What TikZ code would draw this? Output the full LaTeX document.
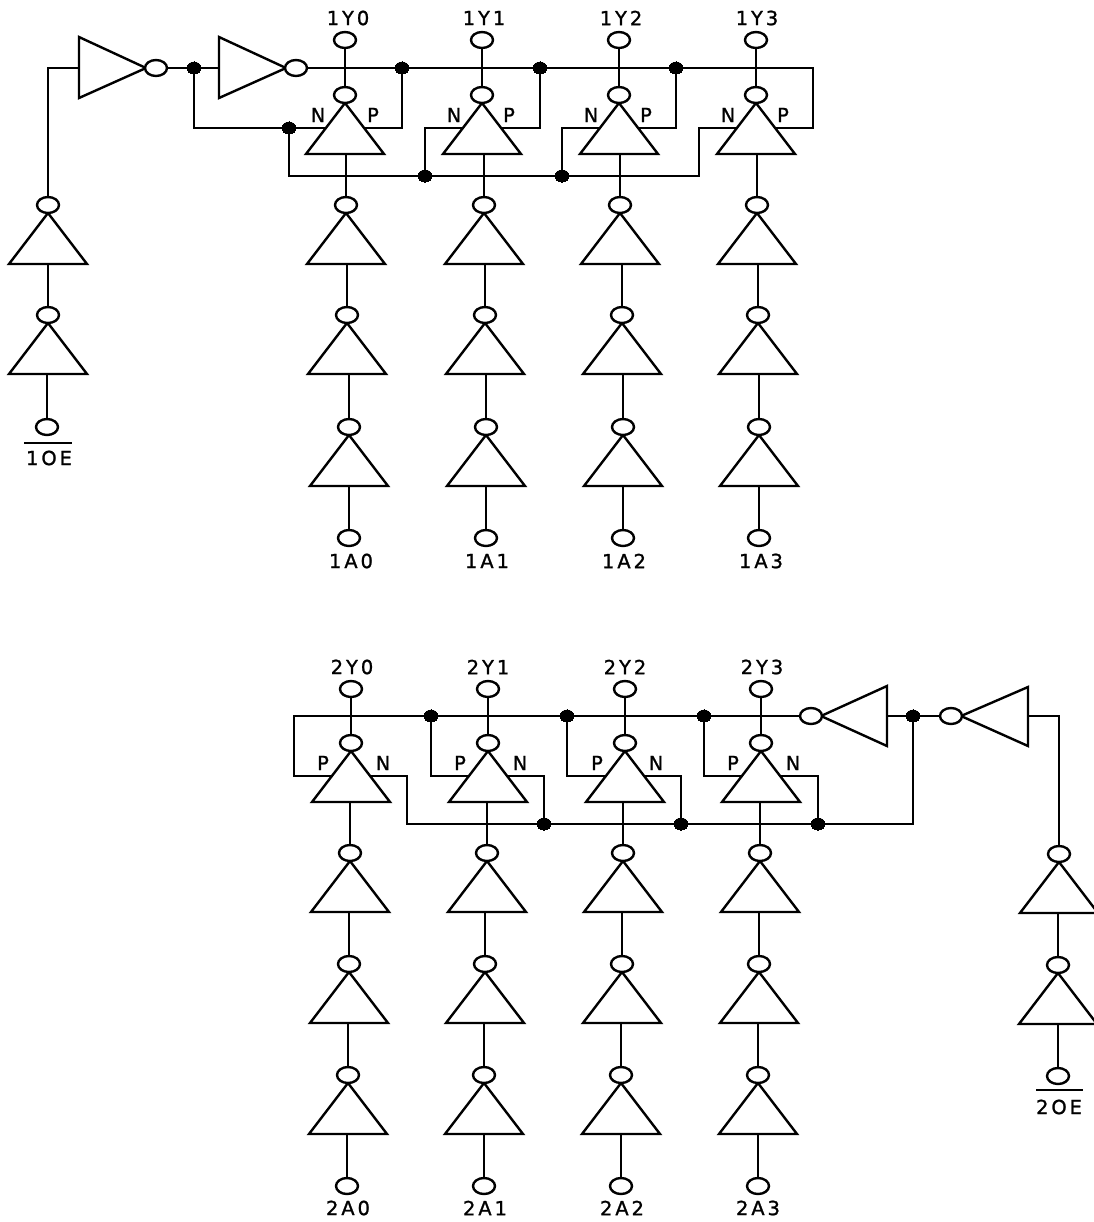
\documentclass[tikz,border=0pt]{standalone}
\usepackage{fontspec}
\usetikzlibrary{shapes.geometric}
\newfontfamily\pinfont[LetterSpace=15,FakeBold=1.2]{DejaVu Sans}
\tikzset{
	wire/.style={line width=1.8pt, line join=miter},
	bubble/.style={draw, ellipse, line width=1.8pt, fill=white, inner sep=0pt, minimum width=16.5pt, minimum height=12pt},
	dot/.style={draw, ellipse, fill=black, line width=0pt, inner sep=0pt, minimum width=10.5pt, minimum height=9.2pt},
	pinlabel/.style={inner sep=0pt, font=\pinfont\fontsize{14.6pt}{15pt}\selectfont}
}
% gate pointing up, (x,y) is the centre of its bubble
\def\gateup(#1,#2)#3{
	\draw[wire] (#1, #2+8) -- (#1-39, #2+59) -- (#1+39, #2+59) -- cycle;
	\coordinate (#3in) at (#1, #2+59);
	\coordinate (#3l) at (#1-19, #2+33);
	\coordinate (#3r) at (#1+19, #2+33);
	\node[bubble] (#3) at (#1, #2) {};
}

\begin{document}
\begin{tikzpicture}[x=0.75pt, y=-0.75pt]
		\useasboundingbox (0, 0) rectangle (1094, 1222);
		%%%%% UPPER HALF %%%%%
		\node[bubble] (y0) at (345, 40) {};
		\node[bubble] (y1) at (482, 40) {};
		\node[bubble] (y2) at (619, 40) {};
		\node[bubble] (y3) at (756, 40) {};
		\node[pinlabel] (y0t) at (348, 18) {1Y0};
		\node[pinlabel] (y1t) at (484, 18) {1Y1};
		\node[pinlabel] (y2t) at (621, 18) {1Y2};
		\node[pinlabel] (y3t) at (757, 18) {1Y3};
		
		\gateup(345, 95){ta}
		\gateup(482, 95){tb}
		\gateup(619, 95){tc}
		\gateup(756, 95){td}
		
		\gateup(346, 205){aa}
		\gateup(347, 315){ab}
		\gateup(349, 427){ac}
		\gateup(484, 205){ba}
		\gateup(485, 315){bb}
		\gateup(486, 427){bc}
		\gateup(620, 205){ca}
		\gateup(622, 315){cb}
		\gateup(623, 427){cc}
		\gateup(757, 205){da}
		\gateup(758, 315){db}
		\gateup(759, 427){dc}
		
		\node[bubble] (a0) at (349, 538) {};
		\node[bubble] (a1) at (486, 538) {};
		\node[bubble] (a2) at (623, 538) {};
		\node[bubble] (a3) at (759, 538) {};
		\node[pinlabel] (a0t) at (351, 561) {1A0};
		\node[pinlabel] (a1t) at (487, 561) {1A1};
		\node[pinlabel] (a2t) at (624, 561) {1A2};
		\node[pinlabel] (a3t) at (761, 561) {1A3};
		
		\draw[wire] (y0) -- (ta); \draw[wire] (y1) -- (tb); \draw[wire] (y2) -- (tc); \draw[wire] (y3) -- (td);
		\draw[wire] (aa) -- (aa |- tain); \draw[wire] (ab) -- (ab |- aain); \draw[wire] (ac) -- (ac |- abin); \draw[wire] (a0) -- (a0 |- acin);
		\draw[wire] (ba) -- (ba |- tbin); \draw[wire] (bb) -- (bb |- bain); \draw[wire] (bc) -- (bc |- bbin); \draw[wire] (a1) -- (a1 |- bcin);
		\draw[wire] (ca) -- (ca |- tcin); \draw[wire] (cb) -- (cb |- cain); \draw[wire] (cc) -- (cc |- cbin); \draw[wire] (a2) -- (a2 |- ccin);
		\draw[wire] (da) -- (da |- tdin); \draw[wire] (db) -- (db |- dain); \draw[wire] (dc) -- (dc |- dbin); \draw[wire] (a3) -- (a3 |- dcin);
		
		% enable path of the upper half
		\gateup(48, 205){ea}
		\gateup(48, 315){eb}
		\node[bubble] (oea) at (47, 427) {};
		\node[pinlabel] (oeat) at (49, 458) {1OE};
		\draw[wire, line width=1.4pt] (24, 443) -- (72, 443);
		\draw[wire] (eb) -- (eb |- eain); \draw[wire] (oea) -- (oea |- ebin);
		
		\draw[wire] (79, 37) -- (79, 98) -- (146, 68) -- cycle;
		\coordinate (inva) at (79, 68);
		\node[bubble] (invab) at (156, 68) {};
		\draw[wire] (219, 37) -- (219, 98) -- (286, 68) -- cycle;
		\coordinate (invb) at (219, 68);
		\node[bubble] (invbb) at (296, 68) {};
		\draw[wire] (ea) |- (inva);
		
		\node[dot] (ja) at (194, 68) {};
		\draw[wire] (invab) -- (ja); \draw[wire] (ja) -- (invb);
		\node[dot] (jb) at (289, 128) {};
		\draw[wire] (ja) |- (jb); \draw[wire] (jb) -- (tal);
		
		\node[dot] (pa) at (402, 68) {};
		\node[dot] (pb) at (540, 68) {};
		\node[dot] (pc) at (676, 68) {};
		\coordinate (pd) at (813, 68);
		\draw[wire] (invbb) -- (pa); \draw[wire] (pa) -- (pb); \draw[wire] (pb) -- (pc); \draw[wire, line cap=rect] (pc) -- (pd);
		\draw[wire] (pa) |- (tar); \draw[wire] (pb) |- (tbr); \draw[wire] (pc) |- (tcr); \draw[wire] (pd) |- (tdr);
		
		\coordinate (nb) at (289, 176);
		\node[dot] (na) at (425, 176) {};
		\node[dot] (nc) at (562, 176) {};
		\coordinate (nd) at (699, 176);
		\draw[wire] (jb) |- (na); \draw[wire] (na) -- (nc); \draw[wire, line cap=rect] (nc) -- (nd);
		\draw[wire] (na) |- (tbl); \draw[wire] (nc) |- (tcl); \draw[wire] (nd) |- (tdl);
		
		\node[pinlabel] (lna) at (318, 115) {N};
		\node[pinlabel] (lpa) at (373, 115) {P};
		\node[pinlabel] (lnb) at (454, 115) {N};
		\node[pinlabel] (lpb) at (509, 115) {P};
		\node[pinlabel] (lnc) at (591, 115) {N};
		\node[pinlabel] (lpc) at (646, 115) {P};
		\node[pinlabel] (lnd) at (728, 115) {N};
		\node[pinlabel] (lpd) at (783, 115) {P};
		
		%%%%% LOWER HALF %%%%%
		\node[bubble] (z0) at (351, 689) {};
		\node[bubble] (z1) at (488, 689) {};
		\node[bubble] (z2) at (625, 689) {};
		\node[bubble] (z3) at (761, 689) {};
		\node[pinlabel] (z0t) at (352, 667) {2Y0};
		\node[pinlabel] (z1t) at (488, 667) {2Y1};
		\node[pinlabel] (z2t) at (625, 667) {2Y2};
		\node[pinlabel] (z3t) at (762, 667) {2Y3};
		
		\gateup(351, 743){ua}
		\gateup(488, 743){ub}
		\gateup(625, 743){uc}
		\gateup(761, 743){ud}
		
		\gateup(350, 853){fa}
		\gateup(349, 964){fb}
		\gateup(348, 1075){fc}
		\gateup(487, 853){ga}
		\gateup(485, 964){gb}
		\gateup(484, 1075){gc}
		\gateup(623, 853){ha}
		\gateup(622, 964){hb}
		\gateup(621, 1075){hc}
		\gateup(760, 853){ka}
		\gateup(759, 964){kb}
		\gateup(758, 1075){kc}
		
		\node[bubble] (b0) at (347, 1186) {};
		\node[bubble] (b1) at (484, 1186) {};
		\node[bubble] (b2) at (621, 1186) {};
		\node[bubble] (b3) at (758, 1186) {};
		\node[pinlabel] (b0t) at (348, 1208) {2A0};
		\node[pinlabel] (b1t) at (485, 1208) {2A1};
		\node[pinlabel] (b2t) at (622, 1208) {2A2};
		\node[pinlabel] (b3t) at (758, 1208) {2A3};
		
		\draw[wire] (z0) -- (ua); \draw[wire] (z1) -- (ub); \draw[wire] (z2) -- (uc); \draw[wire] (z3) -- (ud);
		\draw[wire] (fa) -- (fa |- uain); \draw[wire] (fb) -- (fb |- fain); \draw[wire] (fc) -- (fc |- fbin); \draw[wire] (b0) -- (b0 |- fcin);
		\draw[wire] (ga) -- (ga |- ubin); \draw[wire] (gb) -- (gb |- gain); \draw[wire] (gc) -- (gc |- gbin); \draw[wire] (b1) -- (b1 |- gcin);
		\draw[wire] (ha) -- (ha |- ucin); \draw[wire] (hb) -- (hb |- hain); \draw[wire] (hc) -- (hc |- hbin); \draw[wire] (b2) -- (b2 |- hcin);
		\draw[wire] (ka) -- (ka |- udin); \draw[wire] (kb) -- (kb |- kain); \draw[wire] (kc) -- (kc |- kbin); \draw[wire] (b3) -- (b3 |- kcin);
		
		% enable path of the lower half
		\gateup(1059, 854){ma}
		\gateup(1058, 965){mb}
		\node[bubble] (oeb) at (1058, 1076) {};
		\node[pinlabel] (oebt) at (1059, 1107) {2OE};
		\draw[wire, line width=1.4pt] (1036, 1090) -- (1083, 1090);
		\draw[wire] (mb) -- (mb |- main); \draw[wire] (oeb) -- (oeb |- mbin);
		
		\draw[wire] (1028, 687) -- (1028, 746) -- (961, 716) -- cycle;
		\coordinate (invd) at (1028, 716);
		\node[bubble] (invdb) at (951, 716) {};
		\draw[wire] (887, 686) -- (887, 746) -- (821, 716) -- cycle;
		\coordinate (invc) at (887, 716);
		\node[bubble] (invcb) at (811, 716) {};
		\draw[wire] (ma) |- (invd);
		
		\node[dot] (jc) at (913, 716) {};
		\draw[wire] (invdb) -- (jc); \draw[wire] (jc) -- (invc);
		
		\coordinate (qa) at (294, 716);
		\node[dot] (qb) at (431, 716) {};
		\node[dot] (qc) at (567, 716) {};
		\node[dot] (qd) at (704, 716) {};
		\draw[wire] (invcb) -- (qd); \draw[wire] (qd) -- (qc); \draw[wire] (qc) -- (qb); \draw[wire, line cap=rect] (qb) -- (qa);
		\draw[wire] (qa) |- (ual); \draw[wire] (qb) |- (ubl); \draw[wire] (qc) |- (ucl); \draw[wire] (qd) |- (udl);
		
		\coordinate (ra) at (407, 824);
		\node[dot] (rb) at (544, 824) {};
		\node[dot] (rc) at (681, 824) {};
		\node[dot] (rd) at (818, 824) {};
		\draw[wire, line cap=rect] (ra) -- (rb); \draw[wire] (rb) -- (rc); \draw[wire] (rc) -- (rd);
		\draw[wire] (rd) -| (jc);
		\draw[wire] (ra) |- (uar); \draw[wire] (rb) |- (ubr); \draw[wire] (rc) |- (ucr); \draw[wire] (rd) |- (udr);
		
		\node[pinlabel] (lqa) at (323, 763) {P};
		\node[pinlabel] (lra) at (383, 763) {N};
		\node[pinlabel] (lqb) at (460, 763) {P};
		\node[pinlabel] (lrb) at (520, 763) {N};
		\node[pinlabel] (lqc) at (597, 763) {P};
		\node[pinlabel] (lrc) at (656, 763) {N};
		\node[pinlabel] (lqd) at (733, 763) {P};
		\node[pinlabel] (lrd) at (793, 763) {N};
		%%%%% END %%%%%
	\end{tikzpicture}
\end{document}
